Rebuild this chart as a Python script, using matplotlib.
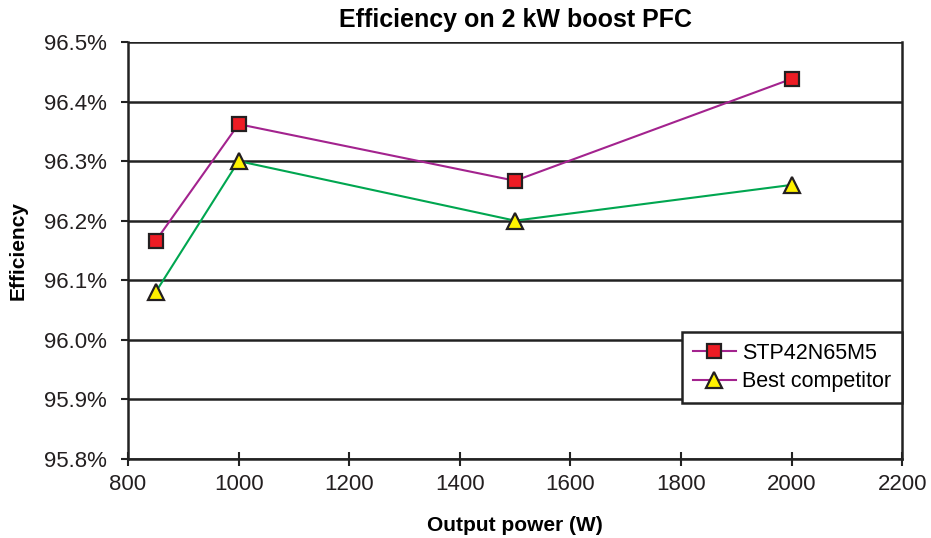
import matplotlib
matplotlib.use("Agg")
import matplotlib.pyplot as plt
from matplotlib.lines import Line2D
from matplotlib.ticker import FuncFormatter

plt.rcParams['font.family'] = ['Liberation Sans', 'DejaVu Sans']

power = [850, 1000, 1500, 2000]
stp = [96.166, 96.362, 96.267, 96.438]
competitor = [96.08, 96.30, 96.20, 96.26]
yticks = [95.8, 95.9, 96.0, 96.1, 96.2, 96.3, 96.4, 96.5]
xticks = [800, 1000, 1200, 1400, 1600, 1800, 2000, 2200]

fig = plt.figure(figsize=(9.31, 5.38), dpi=100)
ax = fig.add_axes([0.1375, 0.147, 0.8315, 0.775])

ax.set_axisbelow(True)
ax.grid(axis='y', color='#222222', linewidth=1.8)

ax.plot(power, stp, color='#a3238e', linewidth=1.5, marker='s', markersize=10,
        markerfacecolor='#ed1c24', markeredgecolor='#231f20', markeredgewidth=1.6, zorder=3)
ax.plot(power, competitor, color='#00a650', linewidth=1.5, marker='^', markersize=11,
        markerfacecolor='#fff200', markeredgecolor='#231f20', markeredgewidth=1.6, zorder=3)

ax.set_xlim(800, 2200)
ax.set_ylim(95.8, 96.5)
ax.set_xticks(xticks)
ax.set_yticks(yticks)
ax.yaxis.set_major_formatter(FuncFormatter(lambda v, p: f"{v:.1f}%"))
ax.tick_params(axis='both', labelsize=16, width=1.5, color='#222222', labelcolor='#231f20')
ax.tick_params(axis='y', length=5, pad=10)
ax.tick_params(axis='x', direction='inout', length=10, pad=6)

for s in ['left', 'bottom', 'right']:
    ax.spines[s].set_color('#222222')
    ax.spines[s].set_linewidth(1.8)
ax.spines['top'].set_visible(False)

ax.set_title('Efficiency on 2 kW boost PFC', fontsize=18, fontweight='bold', pad=11)
ax.set_xlabel('Output power (W)', fontsize=15, fontweight='bold', labelpad=15)
ax.set_ylabel('Efficiency', fontsize=15, fontweight='bold', labelpad=12)

handles = [
    Line2D([], [], color='#a3238e', linewidth=1.5, marker='s', markersize=10,
           markerfacecolor='#ed1c24', markeredgecolor='#231f20', markeredgewidth=1.6),
    Line2D([], [], color='#a3238e', linewidth=1.5, marker='^', markersize=11,
           markerfacecolor='#fff200', markeredgecolor='#231f20', markeredgewidth=1.6),
]
leg = ax.legend(handles, ['STP42N65M5', 'Best competitor'], loc='lower right',
                bbox_to_anchor=(1.0, 0.134), fontsize=15.5, frameon=True, fancybox=False,
                framealpha=1, edgecolor='#222222', handlelength=2.0, borderpad=0.5,
                labelspacing=0.35, handletextpad=0.3, borderaxespad=0)
leg.get_frame().set_linewidth(1.8)

fig.savefig('out.png', dpi=100)
